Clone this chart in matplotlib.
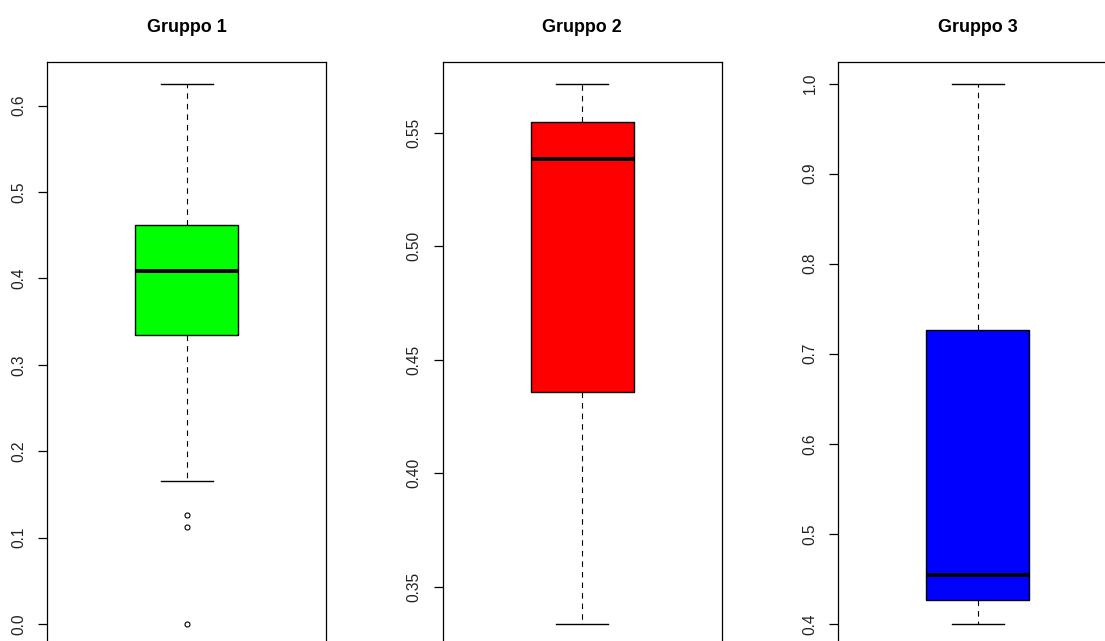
import matplotlib
matplotlib.use("Agg")
import matplotlib.pyplot as plt

plt.rcParams["font.family"] = ["Liberation Sans", "DejaVu Sans"]

# valori (riassunto dei boxplot)
gruppi = ["Gruppo 1", "Gruppo 2", "Gruppo 3"]
baffo_basso = [0.166, 0.3337, 0.400]
q1 = [0.334, 0.4357, 0.4267]
mediana = [0.408, 0.5383, 0.4548]
q3 = [0.462, 0.5545, 0.7268]
baffo_alto = [0.6255, 0.5716, 1.000]
outlier = [[0.126, 0.112, 0.0], [], []]
colori = ["#00ff00", "#ff0000", "#0000ff"]
tick_y = [
    [0.0, 0.1, 0.2, 0.3, 0.4, 0.5, 0.6],
    [0.35, 0.40, 0.45, 0.50, 0.55],
    [0.4, 0.5, 0.6, 0.7, 0.8, 0.9, 1.0],
]
formato_tick = ["%.1f", "%.2f", "%.1f"]

W, H = 1105, 641
fig = plt.figure(figsize=(W / 100, H / 100), dpi=100)

left_px = [47.3, 442.7, 838.3]
top_px, bottom_px, width_px = 62, 645.5, 279

for i in range(3):
    ax = fig.add_axes([left_px[i] / W, (H - bottom_px) / H,
                       width_px / W, (bottom_px - top_px) / H])
    stats = [{
        "whislo": baffo_basso[i], "q1": q1[i], "med": mediana[i],
        "q3": q3[i], "whishi": baffo_alto[i], "fliers": outlier[i],
    }]
    ax.bxp(stats, positions=[1], widths=0.4, capwidths=0.2,
           patch_artist=True, showfliers=True,
           boxprops=dict(facecolor=colori[i], edgecolor="black", linewidth=1.0),
           medianprops=dict(color="black", linewidth=2.8, solid_capstyle="butt"),
           whiskerprops=dict(color="black", linewidth=0.8, linestyle=(0, (5, 4.5))),
           capprops=dict(color="black", linewidth=1.0),
           flierprops=dict(marker="o", markersize=3.6, markerfacecolor="none",
                           markeredgecolor="black", markeredgewidth=0.8))

    # limiti come in R: intervallo dei dati +/- 4%
    tutti = [baffo_basso[i], baffo_alto[i]] + outlier[i]
    lo, hi = min(tutti), max(tutti)
    pad = 0.04 * (hi - lo)
    ax.set_ylim(lo - pad, hi + pad)
    ax.set_xlim(0.46, 1.54)

    ax.set_yticks(tick_y[i])
    ax.set_yticklabels([formato_tick[i] % v for v in tick_y[i]],
                       rotation=90, va="center", fontsize=11.2, color="#222222")
    ax.tick_params(axis="y", length=6.5, width=0.9, pad=8.5)
    ax.set_xticks([])
    for s in ax.spines.values():
        s.set_linewidth(0.9)

    ax.text(0.5, 1 + 35 / (bottom_px - top_px), gruppi[i], transform=ax.transAxes,
            ha="center", va="center", fontsize=12.9, fontweight="bold")

fig.savefig("out.png", dpi=100)
